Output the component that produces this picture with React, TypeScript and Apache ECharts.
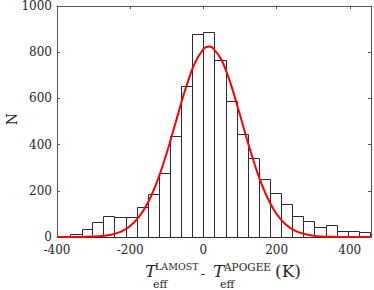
import React, { useEffect, useRef } from "react";
import * as echarts from "echarts";

// Histogram bin edges (K) and counts
const binEdges = [-394, -364, -333, -303, -273, -243, -212, -182, -152, -121, -91, -61, -30, 0, 30, 61, 91, 121, 152, 182, 212, 243, 273, 303, 334, 364, 394, 425, 455];
const counts = [4, 15, 35, 67, 91, 88, 88, 130, 185, 275, 436, 655, 880, 886, 765, 588, 448, 340, 249, 191, 145, 93, 69, 45, 50, 27, 28, 22];

// Gaussian fit curve
const fitX = [-400, -375, -350, -325, -300, -275, -250, -225, -200, -175, -150, -125, -100, -75, -50, -25, 0, 15, 25, 50, 75, 100, 125, 150, 175, 200, 225, 250, 275, 300, 325, 350, 375, 400, 425, 458];
const fitY = [0, 0, 0.2, 0.7, 1.8, 4.6, 10.8, 23.6, 47.6, 88.9, 153.6, 246, 364.7, 500.4, 635.6, 747.5, 813.6, 825, 820, 765, 660.6, 528, 391, 268, 170, 99.7, 54, 27.3, 12.7, 5.5, 2.2, 0.8, 0.3, 0.1, 0, 0];

const xMin = -400;
const xMax = 458;
const xInterval = 200;
const yMin = 0;
const yMax = 1000;
const yInterval = 200;

const SERIF = "DejaVu Serif";
const AXIS_COLOR = "#555555";
const TEXT_COLOR = "#262626";

export default function App() {
  const ref = useRef<HTMLDivElement>(null);

  useEffect(() => {
    document.body.style.margin = "0";
    if (!ref.current) return;
    const chart = echarts.init(ref.current, undefined, { renderer: "svg" });

    const histData = counts.map((c, i) => [binEdges[i], binEdges[i + 1], c]);
    const fitData = fitX.map((x, i) => [x, fitY[i]]);

    const axisCommon = {
      axisLine: { show: true, onZero: false, lineStyle: { color: AXIS_COLOR, width: 1 } },
      axisTick: { show: true, inside: true, length: 3, lineStyle: { color: AXIS_COLOR, width: 1 } },
      splitLine: { show: false },
    };

    const xCommon = { type: "value" as const, min: xMin, max: xMax, interval: xInterval, ...axisCommon };
    const yCommon = { type: "value" as const, min: yMin, max: yMax, interval: yInterval, ...axisCommon };

    const labelStyle = {
      fontFamily: SERIF,
      fontSize: 12,
      color: TEXT_COLOR,
      formatter: (v: number) => "{t|" + String(v) + "}",
      rich: { t: { fontFamily: SERIF, fontSize: 12, color: TEXT_COLOR } },
    };

    const txt = (text: string, x: number, y: number, size: number, italic = false, align = "left") => ({
      type: "text",
      x,
      y,
      style: {
        text,
        fontFamily: SERIF,
        fontSize: size,
        fontStyle: italic ? "italic" : "normal",
        fill: TEXT_COLOR,
        align,
        verticalAlign: "middle",
      },
    });

    const option: any = {
      animation: false,
      textStyle: { fontFamily: SERIF },
      grid: { left: 57, right: 3, top: 6, bottom: 53, containLabel: false },
      xAxis: [
        { ...xCommon, position: "bottom", axisLabel: { ...labelStyle, margin: 7, showMaxLabel: false, showMinLabel: true } },
        { ...xCommon, position: "top", axisLabel: { show: false } },
      ],
      yAxis: [
        { ...yCommon, position: "left", axisLabel: { ...labelStyle, margin: 5 } },
        { ...yCommon, position: "right", axisLabel: { show: false } },
      ],
      series: [
        {
          type: "custom",
          xAxisIndex: 0,
          yAxisIndex: 0,
          data: histData,
          encode: { x: [0, 1], y: 2 },
          renderItem: (_params: any, api: any) => {
            const p0 = api.coord([api.value(0), api.value(2)]);
            const p1 = api.coord([api.value(1), 0]);
            const x0 = Math.round(p0[0]) + 0.5;
            const x1 = Math.round(p1[0]) + 0.5;
            const yT = Math.round(p0[1]) + 0.5;
            const yB = Math.round(p1[1]) + 0.5;
            return {
              type: "rect",
              shape: { x: x0, y: yT, width: x1 - x0, height: yB - yT },
              style: { fill: "#ffffff", stroke: "#2b2b2b", lineWidth: 1 },
            };
          },
          z: 2,
        },
        {
          type: "line",
          xAxisIndex: 0,
          yAxisIndex: 0,
          data: fitData,
          smooth: 0.35,
          showSymbol: false,
          symbol: "none",
          lineStyle: { color: "#ff0000", width: 2 },
          z: 5,
        },
      ],
      graphic: [
        {
          type: "text",
          x: 12,
          y: 119,
          rotation: Math.PI / 2,
          style: { text: "N", fontFamily: SERIF, fontSize: 14, fill: TEXT_COLOR, align: "center", verticalAlign: "middle" },
        },
        txt("T", 145, 271, 17, true),
        txt("LAMOST", 155, 266.5, 9.5),
        txt("eff", 153, 284.5, 11),
        txt("-", 203, 273.5, 13, false, "center"),
        txt("T", 213, 271, 17, true),
        txt("APOGEE", 224, 266.5, 10.5),
        txt("eff", 220, 284.5, 11),
        txt("(K)", 275, 271, 17),
      ],
    };

    chart.setOption(option);
    return () => {
      chart.dispose();
    };
  }, []);

  return <div ref={ref} style={{ width: 374, height: 290 }} />;
}
